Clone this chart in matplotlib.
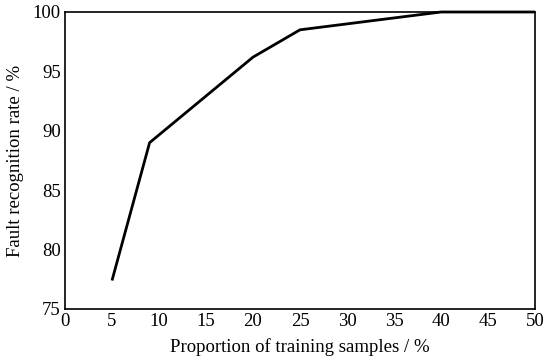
import matplotlib
matplotlib.use('Agg')
import matplotlib.pyplot as plt

# proportion of training samples (%) vs fault recognition rate (%)
proportion = [5, 9, 20, 25, 40, 50]
rate = [77.4, 89.0, 96.2, 98.5, 100.0, 100.0]

plt.rcParams['font.family'] = ['Liberation Serif', 'DejaVu Serif']

fig = plt.figure(figsize=(5.5, 3.63), dpi=100)
ax = fig.add_axes([65 / 550, 1 - 309 / 363, 470 / 550, 297 / 363])
ax.plot(proportion, rate, color='black', lw=2, clip_on=False, solid_capstyle='butt')
ax.set_xlim(0, 50)
ax.set_ylim(75, 100)
ax.set_xticks(range(0, 51, 5))
ax.set_yticks(range(75, 101, 5))
ax.tick_params(length=0, labelsize=13.5, pad=3)
for s in ax.spines.values():
    s.set_linewidth(1.2)
ax.set_xlabel('Proportion of training samples / %', fontsize=13.5, labelpad=6)
ax.set_ylabel('Fault recognition rate / %', fontsize=13.5, labelpad=6)

fig.savefig('out.png', dpi=100)
